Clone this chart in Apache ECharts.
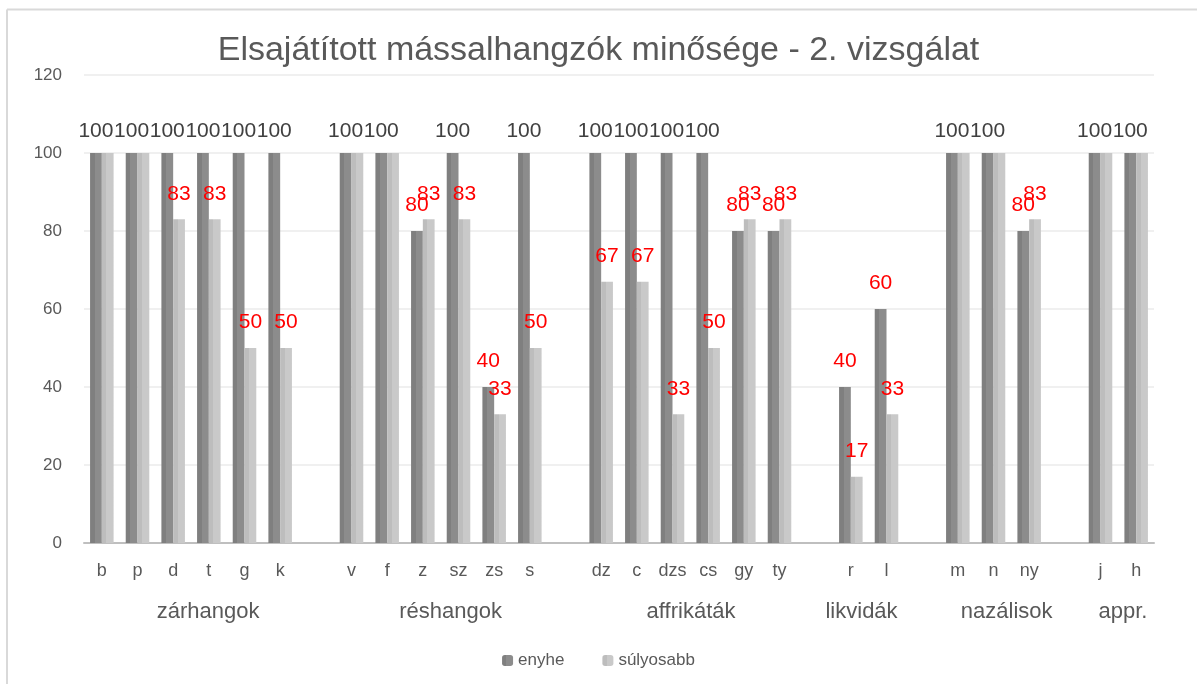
<!DOCTYPE html>
<html>
<head>
<meta charset="utf-8">
<script src="https://cdn.jsdelivr.net/npm/echarts@6/dist/echarts.min.js"></script>
<style>
  html, body { margin: 0; padding: 0; background: #fff; }
  #main { width: 1197px; height: 684px; }
</style>
</head>
<body>
<div id="main"></div>
<script>
// csoportok és mássalhangzók
var groupNames = ['zárhangok', 'réshangok', 'affrikáták', 'likvidák', 'nazálisok', 'appr.'];
var consonants = [
  ['b', 'p', 'd', 't', 'g', 'k'],
  ['v', 'f', 'z', 'sz', 'zs', 's'],
  ['dz', 'c', 'dzs', 'cs', 'gy', 'ty'],
  ['r', 'l'],
  ['m', 'n', 'ny'],
  ['j', 'h']
];
var enyhe = [
  [100, 100, 100, 100, 100, 100],
  [100, 100, 80, 100, 40, 100],
  [100, 100, 100, 100, 80, 80],
  [40, 60],
  [100, 100, 80],
  [100, 100]
];
var sulyosabb = [
  [100, 100, 83, 83, 50, 50],
  [100, 100, 83, 83, 33, 50],
  [67, 67, 33, 50, 83, 83],
  [17, 33],
  [100, 100, 83],
  [100, 100]
];
var yTicks = [0, 20, 40, 60, 80, 100, 120];

window.onload = function () {
  var myChart = echarts.init(document.getElementById('main'));

  // üres kategória a csoportok között
  var cats = [], d1 = [], d2 = [];
  for (var g = 0; g < groupNames.length; g++) {
    if (g > 0) { cats.push(''); d1.push(null); d2.push(null); }
    for (var i = 0; i < consonants[g].length; i++) {
      cats.push(consonants[g][i]);
      d1.push(enyhe[g][i]);
      d2.push(sulyosabb[g][i]);
    }
  }

  // a csoportfeliratok helye (kategória-egységben)
  var groupPos = [3.48, 10.28, 17.02, 21.8, 25.87, 29.13];

  function items(arr, hideFull) {
    return arr.map(function (v) {
      if (v === null) return null;
      var full = v >= 100;
      return {
        value: v,
        label: {
          show: !(hideFull && full),
          color: full ? '#404040' : '#ff0000',
          distance: full ? 11 : 15
        }
      };
    });
  }

  function grad(a, b) {
    return new echarts.graphic.LinearGradient(0, 0, 1, 0, [
      { offset: 0, color: a }, { offset: 0.38, color: a },
      { offset: 0.38, color: b }, { offset: 1, color: b }
    ]);
  }

  var labelFont = { fontFamily: 'Liberation Sans', fontSize: 21 };

  var option = {
    backgroundColor: '#fff',
    animation: false,
    title: {
      text: 'Elsajátított mássalhangzók minősége - 2. vizsgálat',
      left: 'center',
      top: 29,
      textStyle: {
        fontFamily: 'Liberation Sans',
        fontWeight: 'normal',
        fontSize: 34,
        color: '#595959'
      }
    },
    legend: {
      bottom: 10,
      left: 'center',
      itemWidth: 11,
      itemHeight: 11,
      itemGap: 38,
      textStyle: { fontFamily: 'Liberation Sans', fontSize: 17, color: '#595959' },
      data: ['enyhe', 'súlyosabb']
    },
    grid: { left: 84, right: 43, top: 75, bottom: 141 },
    xAxis: [{
      type: 'category',
      data: cats,
      axisTick: { show: false },
      axisLine: { lineStyle: { color: '#bfbfbf', width: 2 } },
      axisLabel: { margin: 19, fontFamily: 'Liberation Sans', fontSize: 18, color: '#595959', interval: 0 }
    }, {
      type: 'value',
      position: 'bottom',
      min: 0,
      max: cats.length,
      axisLine: { show: false },
      axisTick: { show: false },
      splitLine: { show: false },
      axisLabel: {
        margin: 58,
        fontFamily: 'Liberation Sans',
        fontSize: 22,
        color: '#595959',
        customValues: groupPos,
        formatter: function (v) {
          var best = 0;
          for (var k = 1; k < groupPos.length; k++) {
            if (Math.abs(groupPos[k] - v) < Math.abs(groupPos[best] - v)) best = k;
          }
          return groupNames[best];
        }
      }
    }],
    yAxis: {
      type: 'value',
      min: yTicks[0],
      max: yTicks[yTicks.length - 1],
      interval: 20,
      axisLine: { show: false },
      axisTick: { show: false },
      splitLine: { lineStyle: { color: '#ebebeb', width: 1.5 } },
      axisLabel: { margin: 22, fontFamily: 'Liberation Sans', fontSize: 17, color: '#595959' }
    },
    graphic: [
      { type: 'line', shape: { x1: 7, y1: 9.5, x2: 1197, y2: 9.5 }, style: { stroke: '#d9d9d9', lineWidth: 2 } },
      { type: 'line', shape: { x1: 7, y1: 9.5, x2: 7, y2: 684 }, style: { stroke: '#d9d9d9', lineWidth: 2 } }
    ],
    series: [{
      name: 'enyhe',
      type: 'bar',
      xAxisIndex: 0,
      barGap: '0%',
      barCategoryGap: '34%',
      itemStyle: { color: grad('#7f7f7f', '#8c8c8c') },
      label: Object.assign({ show: true, position: 'top' }, labelFont),
      data: items(d1, false)
    }, {
      name: 'súlyosabb',
      type: 'bar',
      xAxisIndex: 0,
      barGap: '0%',
      barCategoryGap: '34%',
      itemStyle: { color: grad('#bdbdbd', '#c9c9c9') },
      label: Object.assign({ show: true, position: 'top' }, labelFont),
      data: items(d2, true)
    }]
  };

  myChart.setOption(option);
};
</script>
</body>
</html>
